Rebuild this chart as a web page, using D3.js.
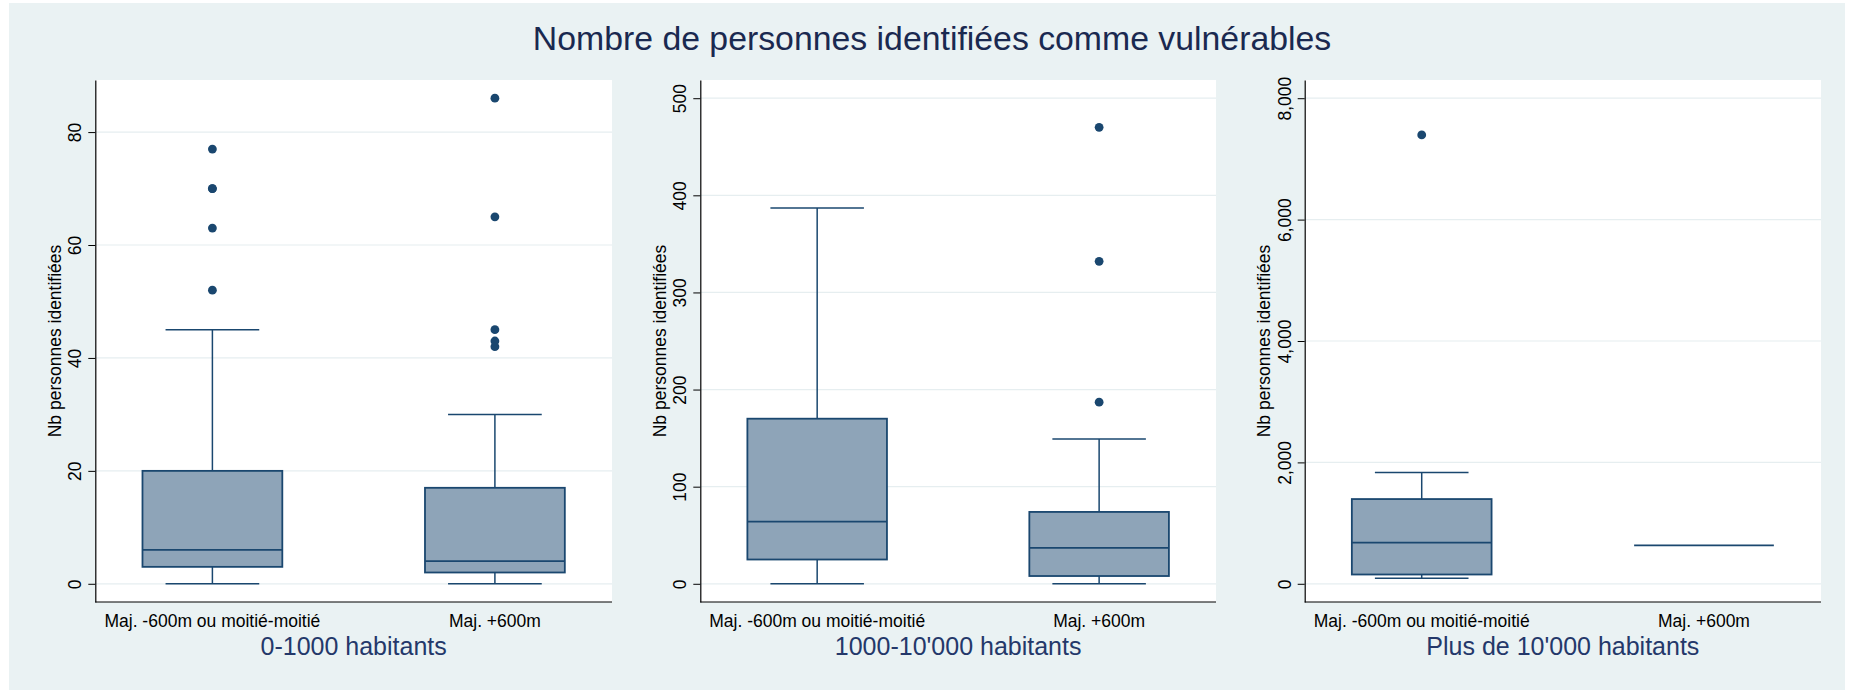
<!DOCTYPE html>
<html>
<head>
<meta charset="utf-8">
<script src="https://cdn.jsdelivr.net/npm/d3@7"></script>
<style>
  body { margin: 0; background: #ffffff; }
  svg { display: block; font-family: "Liberation Sans", Arial, sans-serif; }
</style>
</head>
<body>
<svg id="chart" width="1850" height="693"></svg>
<script>
// categories
var groups = ["Maj. -600m ou moitié-moitié", "Maj. +600m"];
var panelTitles = ["0-1000 habitants", "1000-10'000 habitants", "Plus de 10'000 habitants"];
var mainTitle = "Nombre de personnes identifiées comme vulnérables";
var yTitle = "Nb personnes identifiées";

// box stats per group: [lower whisker, q1, median, q3, upper whisker]
var stats_small = [[0, 3, 6, 20, 45], [0, 2, 4, 17, 30]];
var stats_mid = [[0, 25, 64, 170, 387], [0, 8, 37, 74, 149]];
var stats_big = [[93, 153, 678, 1396, 1835], [632, 632, 632, 632, 632]];

// outside values
var out_small = [[52, 63, 70, 70, 77], [42, 43, 45, 65, 86]];
var out_mid = [[], [187, 332, 470]];
var out_big = [[7395], []];

// tick labels
var ticks_small = [0, 20, 40, 60, 80];
var ticks_mid = [0, 100, 200, 300, 400, 500];
var ticks_big = [0, 2000, 4000, 6000, 8000];

var panels = [
    { title: panelTitles[0], stats: stats_small, outs: out_small, ticks: ticks_small, fmt: d3.format("d") },
    { title: panelTitles[1], stats: stats_mid, outs: out_mid, ticks: ticks_mid, fmt: d3.format("d") },
    { title: panelTitles[2], stats: stats_big, outs: out_big, ticks: ticks_big, fmt: d3.format(",") }
];

// layout of the three plot regions
var plotLeft = [95.3, 700.3, 1304.7],
    plotRight = [612, 1216, 1821],
    plotTop = 80,
    plotBottom = 602;

var navy = "#1a476f",
    boxFill = "#8ea4b8",
    gridCol = "#e6eef0";

var svg = d3.select("#chart");

// outer background
svg.append("rect")
    .attr("x", 9).attr("y", 3)
    .attr("width", 1836).attr("height", 687)
    .attr("fill", "#eaf2f3");

svg.append("text")
    .attr("x", 932)
    .attr("y", 50)
    .attr("text-anchor", "middle")
    .attr("font-size", 33.8)
    .attr("fill", "#1a2950")
    .text(mainTitle);

panels.forEach(function (p, i) {
    var left = plotLeft[i], w = plotRight[i] - left;
    var g = svg.append("g").attr("transform", "translate(" + left + ",0)");

    // y range: data + ticks, padded a bit like Stata does
    var allVals = [];
    p.stats.forEach(function (s) { allVals = allVals.concat(s) });
    p.outs.forEach(function (o) { allVals = allVals.concat(o) });
    var lo = Math.min(d3.min(allVals), d3.min(p.ticks));
    var hi = Math.max(d3.max(allVals), d3.max(p.ticks));
    var pad = (hi - lo) * 0.0375;

    var y = d3.scaleLinear()
        .domain([lo - pad, hi + pad])
        .range([plotBottom, plotTop]);

    var x = d3.scaleBand()
        .domain(groups)
        .range([0, w])
        .paddingInner(0.505)
        .paddingOuter(0.167);

    // plot region
    g.append("rect")
        .attr("x", 0).attr("y", plotTop)
        .attr("width", w).attr("height", plotBottom - plotTop)
        .attr("fill", "#ffffff");

    // grid
    g.selectAll(".grid")
        .data(p.ticks)
        .enter()
        .append("line")
        .attr("class", "grid")
        .attr("x1", 0).attr("x2", w)
        .attr("y1", function (d) { return y(d) })
        .attr("y2", function (d) { return y(d) })
        .attr("stroke", gridCol)
        .attr("stroke-width", 1.2);

    // y axis
    var yAxis = g.append("g")
        .call(d3.axisLeft(y).tickValues(p.ticks).tickFormat(p.fmt).tickSize(7).tickSizeOuter(0));
    yAxis.select(".domain").attr("stroke", "#000").attr("stroke-width", 1.2);
    yAxis.selectAll(".tick line").attr("stroke", "#000").attr("stroke-width", 1);
    yAxis.selectAll(".tick text")
        .attr("x", 0).attr("y", 0).attr("dy", 0)
        .attr("text-anchor", "middle")
        .attr("transform", "translate(-14,0) rotate(-90)")
        .attr("font-size", 17.5)
        .attr("font-family", "Liberation Sans, Arial, sans-serif")
        .attr("fill", "#000");

    // x axis line
    g.append("line")
        .attr("x1", 0).attr("x2", w)
        .attr("y1", plotBottom).attr("y2", plotBottom)
        .attr("stroke", "#000").attr("stroke-width", 1.2);

    // y axis title
    g.append("text")
        .attr("transform", "translate(-34.6," + ((plotTop + plotBottom) / 2) + ") rotate(-90)")
        .attr("text-anchor", "middle")
        .attr("font-size", 17.5)
        .attr("fill", "#000")
        .text(yTitle);

    // group labels
    g.selectAll(".glab")
        .data(groups)
        .enter()
        .append("text")
        .attr("x", function (d) { return x(d) + x.bandwidth() / 2 })
        .attr("y", 626.7)
        .attr("text-anchor", "middle")
        .attr("font-size", 17.5)
        .attr("fill", "#000")
        .text(function (d) { return d });

    // panel subtitle
    g.append("text")
        .attr("x", w / 2)
        .attr("y", 655)
        .attr("text-anchor", "middle")
        .attr("font-size", 25)
        .attr("fill", "#24386a")
        .text(p.title);

    // boxes
    var bw = x.bandwidth(), capW = bw * 0.67;
    p.stats.forEach(function (s, j) {
        var cx = x(groups[j]) + bw / 2;
        var bg = g.append("g");
        // whiskers
        bg.append("line")
            .attr("x1", cx).attr("x2", cx)
            .attr("y1", y(s[3])).attr("y2", y(s[4]))
            .attr("stroke", navy).attr("stroke-width", 1.5);
        bg.append("line")
            .attr("x1", cx).attr("x2", cx)
            .attr("y1", y(s[1])).attr("y2", y(s[0]))
            .attr("stroke", navy).attr("stroke-width", 1.5);
        if (s[4] > s[3]) {
            bg.append("line")
                .attr("x1", cx - capW / 2).attr("x2", cx + capW / 2)
                .attr("y1", y(s[4])).attr("y2", y(s[4]))
                .attr("stroke", navy).attr("stroke-width", 1.5);
        }
        if (s[0] < s[1]) {
            bg.append("line")
                .attr("x1", cx - capW / 2).attr("x2", cx + capW / 2)
                .attr("y1", y(s[0])).attr("y2", y(s[0]))
                .attr("stroke", navy).attr("stroke-width", 1.5);
        }
        if (s[3] > s[1]) {
            bg.append("rect")
                .attr("x", x(groups[j]))
                .attr("y", y(s[3]))
                .attr("width", bw)
                .attr("height", y(s[1]) - y(s[3]))
                .attr("fill", boxFill)
                .attr("stroke", navy)
                .attr("stroke-width", 1.8);
        }
        bg.append("line")
            .attr("x1", x(groups[j])).attr("x2", x(groups[j]) + bw)
            .attr("y1", y(s[2])).attr("y2", y(s[2]))
            .attr("stroke", navy).attr("stroke-width", 1.8);

        // outside values
        bg.selectAll("circle")
            .data(p.outs[j])
            .enter()
            .append("circle")
            .attr("cx", cx)
            .attr("cy", function (d) { return y(d) })
            .attr("r", 4.4)
            .attr("fill", navy);
    });
});
</script>
</body>
</html>
